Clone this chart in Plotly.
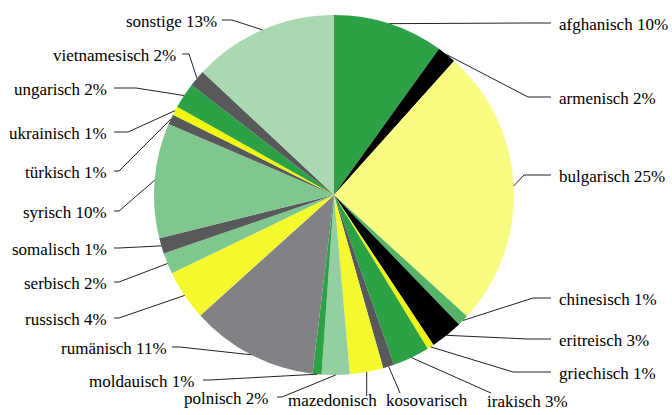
import math
import plotly.graph_objects as go

# ---------------- data ----------------
names = ["afghanisch", "armenisch", "bulgarisch", "chinesisch", "eritreisch",
         "griechisch", "irakisch", "kosovarisch", "mazedonisch", "polnisch",
         "moldauisch", "rumänisch", "russisch", "serbisch", "somalisch",
         "syrisch", "türkisch", "ukrainisch", "ungarisch", "vietnamesisch",
         "sonstige"]
values = [9.9, 1.7, 25.1, 1.0, 2.9,
          0.6, 3.3, 1.0, 3.0, 2.5,
          0.8, 11.4, 4.5, 1.9, 1.4,
          10.3, 0.9, 0.8, 2.3, 1.5,
          13.0]
pct_labels = [10, 2, 25, 1, 3,
              1, 3, 1, 3, 2,
              1, 11, 4, 2, 1,
              10, 1, 1, 2, 2,
              13]

# ---------------- styles / layout ----------------
colors = ["#2ca146", "#000000", "#f8fd82", "#56b468", "#000000",
          "#f0f70a", "#2ca146", "#58595b", "#f3f92c", "#93cfa0",
          "#2ca146", "#808285", "#f3f92c", "#80c68f", "#58595b",
          "#80c68f", "#58595b", "#f0f70a", "#2ca146", "#58595b",
          "#a9d8b1"]

W, H = 672, 415
CX, CY, R = 334, 195, 180
FONT = "Liberation Serif, DejaVu Serif, serif"

# label placement in pixels: text x, text y, anchor, elbow point, end point
lab_x = [557, 557, 557, 557, 557,
         557, 485, 427, 332, 271,
         196, 169, 109, 109, 109,
         109, 109, 109, 109, 178,
         219]
lab_y = [23, 97, 175, 298, 339,
         372, 400, 400, 400, 397,
         380, 347, 318, 282, 248,
         211, 171, 132, 88, 54,
         20]
anchors = ["left"] * 7 + ["center", "center"] + ["right"] * 12
elb_x = [528, 528, 524, 533, 528,
         513, 491, 400, None, 282,
         210, 180, 119, 119, 119,
         119, 119, 128, 136, 189,
         232]
end_x = [551, 551, 551, 551, 551,
         551, 491, 400, None, 277,
         203, 172, 114, 114, 114,
         114, 114, 114, 114, 182,
         222]
line_end_y = [None] * 6 + [393, 393, 396] + [None] * 12

fig = go.Figure()

fig.add_trace(go.Pie(
    labels=names, values=values, sort=False, direction="clockwise",
    rotation=0, textinfo="none", hoverinfo="label+percent",
    marker=dict(colors=colors, line=dict(width=0)),
    showlegend=False,
    domain=dict(x=[(CX - R) / W, (CX + R) / W],
                y=[1 - (CY + R) / H, 1 - (CY - R) / H]),
))

total = sum(values)
cum = 0.0
shapes = []
annotations = []
for i, n in enumerate(names):
    mid = (cum + values[i] / 2) / total * 2 * math.pi
    cum += values[i]
    sx = CX + R * math.sin(mid)
    sy = CY - R * math.cos(mid)
    if line_end_y[i] is not None:
        ey = line_end_y[i]
        ex = sx if end_x[i] is None else end_x[i]
        path = f"M {sx:.2f} {sy:.2f} L {ex:.2f} {ey:.2f}"
    else:
        path = (f"M {sx:.2f} {sy:.2f} L {elb_x[i]:.2f} {lab_y[i]:.2f} "
                f"L {end_x[i]:.2f} {lab_y[i]:.2f}")
    shapes.append(dict(type="path", xref="x", yref="y", path=path,
                       line=dict(color="#222222", width=1)))
    if anchors[i] == "center":
        txt = f"{n}<br>{pct_labels[i]}%"
        yanchor = "top"
        ty = lab_y[i] - 11
    else:
        txt = f"{n} {pct_labels[i]}%"
        yanchor = "middle"
        ty = lab_y[i] + 1
    annotations.append(dict(x=lab_x[i], y=ty, xref="x", yref="y",
                            text=txt, showarrow=False,
                            xanchor=anchors[i], yanchor=yanchor,
                            align="center",
                            font=dict(family=FONT, size=17,
                                      color="#000000")))

fig.update_layout(
    width=W, height=H,
    margin=dict(l=0, r=0, t=0, b=0),
    paper_bgcolor="white", plot_bgcolor="rgba(0,0,0,0)",
    font=dict(family=FONT),
    xaxis=dict(range=[0, W], visible=False, fixedrange=True),
    yaxis=dict(range=[H, 0], visible=False, fixedrange=True),
    shapes=shapes, annotations=annotations,
)

fig.write_html(
    "out.html",
    config={"displayModeBar": False},
    post_script="document.body.style.margin='0px';"
                "document.body.style.overflow='hidden';",
)
